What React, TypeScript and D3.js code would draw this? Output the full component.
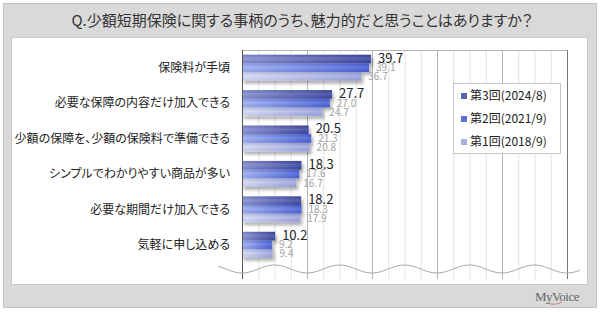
import React from "react";
import * as d3 from "d3";

const title = "Q.少額短期保険に関する事柄のうち、魅力的だと思うことはありますか？";

const categories = [
    "保険料が手頃",
    "必要な保障の内容だけ加入できる",
    "少額の保障を、少額の保険料で準備できる",
    "シンプルでわかりやすい商品が多い",
    "必要な期間だけ加入できる",
    "気軽に申し込める",
];

const seriesNames = ["第3回(2024/8)", "第2回(2021/9)", "第1回(2018/9)"];

const round3 = [39.7, 27.7, 20.5, 18.3, 18.2, 10.2];
const round2 = [39.1, 27.0, 21.3, 17.6, 18.3, 9.2];
const round1 = [36.7, 24.7, 20.8, 16.7, 17.9, 9.4];

const seriesValues = [round3, round2, round1];

const majorTicks = [0, 20, 40, 60, 80, 100];
const minorTicks = d3.range(5, 100, 5);

// bar gradients, left -> right
const gradStops = [
    ["#8790d4", "#3c47a2"],
    ["#9fb0f6", "#4960da"],
    ["#d6dbf7", "#9ca5e2"],
];
const legendColors = ["#5a62aa", "#5b70d8", "#aab2e2"];

const FONT = "'Noto Sans CJK JP', 'Noto Sans', sans-serif";

export default function App() {
    const width = 600;
    const height = 312;

    const left = 242;
    const right = 567;
    const top = 50;
    const gridBottom = 279;

    const x = d3.scaleLinear().domain([0, 100]).range([left, right]);

    const y = d3
        .scaleBand<string>()
        .domain(categories)
        .range([top, 262.5])
        .paddingInner(0.265)
        .paddingOuter(0.1325);

    const sub = d3
        .scaleBand<number>()
        .domain([0, 1, 2])
        .range([0, y.bandwidth()]);

    // decorative break line
    const waveX = d3.range(218, 580.5, 1);
    const wave = d3
        .line<number>()
        .x((d) => d)
        .y((d) => 269 + 4 * Math.cos((2 * Math.PI * (d - left)) / 65))
        .curve(d3.curveBasis)(waveX) ?? "";

    return (
        <svg
            width={width}
            height={height}
            style={{ position: "absolute", left: 0, top: 0, fontFamily: FONT }}
        >
            <defs>
                {gradStops.map((g, i) => (
                    <linearGradient key={i} id={`g${i}`} x1="0" x2="1" y1="0" y2="0">
                        <stop offset="0%" stopColor={g[0]} />
                        <stop offset="100%" stopColor={g[1]} />
                    </linearGradient>
                ))}
                <linearGradient id="shine" x1="0" x2="0" y1="0" y2="1">
                    <stop offset="0%" stopColor="#000" stopOpacity={0.12} />
                    <stop offset="45%" stopColor="#fff" stopOpacity={0.12} />
                    <stop offset="100%" stopColor="#000" stopOpacity={0.05} />
                </linearGradient>
                <filter id="shadow" x="-5%" y="-20%" width="120%" height="180%">
                    <feDropShadow dx={2} dy={3} stdDeviation={1.5} floodColor="#000" floodOpacity={0.3} />
                </filter>
            </defs>

            {/* frame */}
            <rect x={3.5} y={3.5} width={593} height={304} fill="#d9d9d9" stroke="#c4c4c4" />
            <rect x={11.5} y={37.5} width={576} height={247} fill="#fff" stroke="#c8c8c8" />

            <text
                x={302}
                y={26}
                textAnchor="middle"
                fontSize={15}
                fill="#333"
                style={{ fontFeatureSettings: '"palt"' }}
            >
                {title}
            </text>

            {/* grid */}
            {minorTicks.map((t) => (
                <line key={`m${t}`} x1={x(t) + 0.5} x2={x(t) + 0.5} y1={top} y2={gridBottom} stroke="#e2e2e2" />
            ))}
            {majorTicks.slice(1, -1).map((t) => (
                <line key={`M${t}`} x1={x(t) + 0.5} x2={x(t) + 0.5} y1={top} y2={gridBottom} stroke="#b4b4b4" />
            ))}
            <line x1={left} x2={right + 0.5} y1={top + 0.5} y2={top + 0.5} stroke="#b4b4b4" />
            <line x1={right + 0.5} x2={right + 0.5} y1={top} y2={gridBottom} stroke="#777" />

            {/* bars */}
            {categories.map((c, ci) => (
                <g key={c}>
                    {seriesValues.map((vals, si) => (
                        <g key={si}>
                            <rect
                                x={left}
                                y={(y(c) ?? 0) + (sub(si) ?? 0)}
                                width={x(vals[ci]) - left}
                                height={sub.bandwidth()}
                                fill={`url(#g${si})`}
                                filter="url(#shadow)"
                            />
                            <rect
                                x={left}
                                y={(y(c) ?? 0) + (sub(si) ?? 0)}
                                width={x(vals[ci]) - left}
                                height={sub.bandwidth()}
                                fill="url(#shine)"
                            />
                        </g>
                    ))}
                </g>
            ))}

            {/* axis */}
            <line x1={left + 0.5} x2={left + 0.5} y1={top} y2={gridBottom} stroke="#555" />

            {/* value labels */}
            {categories.map((c, ci) =>
                seriesValues.map((vals, si) => (
                    <text
                        key={`${c}-${si}`}
                        x={x(vals[ci]) + 7}
                        y={(y(c) ?? 0) + (sub(si) ?? 0) + sub.bandwidth() / 2 + (si === 0 ? -1 : si === 1 ? 0 : 0.5)}
                        dy="0.35em"
                        fontSize={si === 0 ? 13 : 10}
                        fill={si === 0 ? "#222" : "#a0a0a0"}
                    >
                        {vals[ci].toFixed(1)}
                    </text>
                ))
            )}

            {/* category labels */}
            {categories.map((c) => (
                <text
                    key={c}
                    x={230}
                    y={(y(c) ?? 0) + y.bandwidth() / 2}
                    dy="0.35em"
                    textAnchor="end"
                    fontSize={12}
                    fill="#222"
                    style={{ fontFeatureSettings: '"palt"' }}
                >
                    {c}
                </text>
            ))}

            {/* break wave */}
            <path d={wave} fill="none" stroke="#aaa" strokeWidth={1} />

            {/* legend */}
            <rect x={453.5} y={83.5} width={107} height={70} fill="#fff" stroke="#c8c8c8" />
            {seriesNames.map((s, i) => (
                <g key={s} transform={`translate(461, ${96 + i * 23})`}>
                    <rect x={0} y={-3} width={6} height={6} fill={legendColors[i]} />
                    <text x={9} y={0} dy="0.35em" fontSize={12} fill="#222">
                        {s}
                    </text>
                </g>
            ))}

            {/* logo */}
            <text x={579} y={301} textAnchor="end" fontSize={13} fill="#666" fontFamily="'Liberation Serif', serif" letterSpacing={-0.5}>
                MyVoice
            </text>
            <path d="M548,303 q6,3 14,-1" fill="none" stroke="#c66" strokeWidth={0.8} />
        </svg>
    );
}
